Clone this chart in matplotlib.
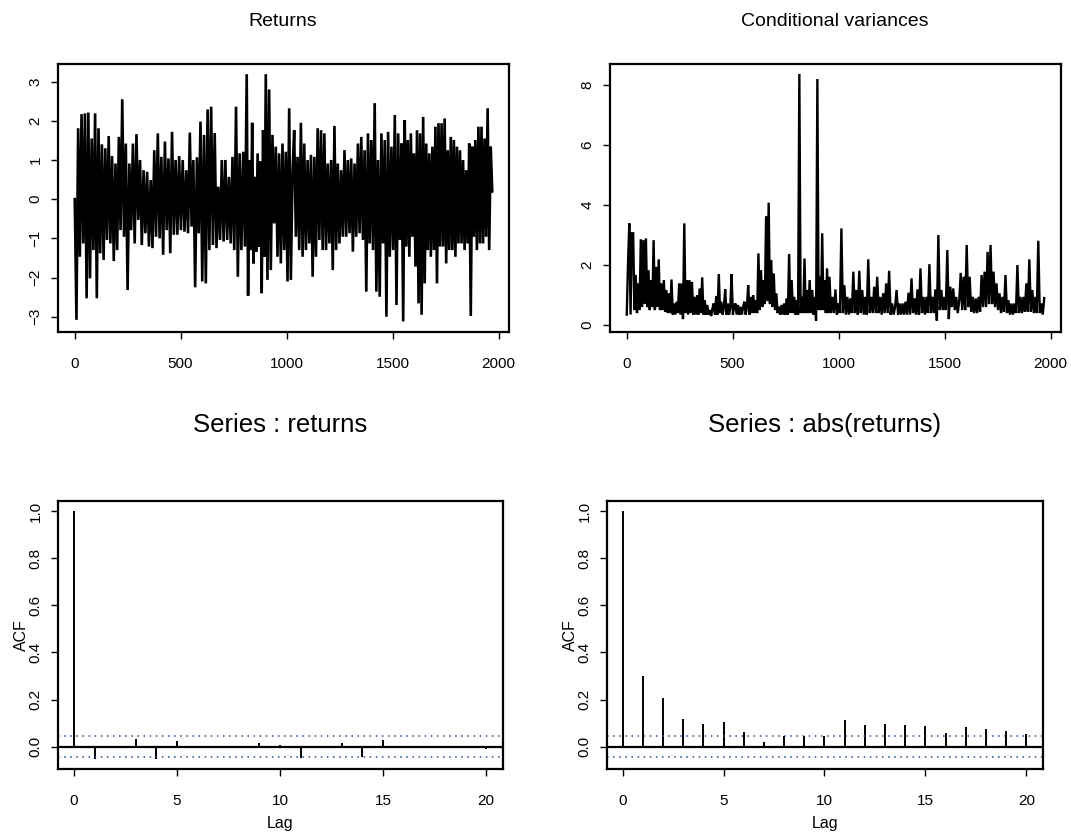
import matplotlib
matplotlib.use("Agg")
import matplotlib.pyplot as plt
import numpy as np

plt.rcParams['font.family'] = ['Liberation Sans', 'DejaVu Sans']

# returns: alternating peaks/troughs (left to right)
returns = [0.0, -3.08, 1.81, -1.47, 2.17, -1.13, 2.19, -2.53, 2.21, -2.02,
           1.55, -1.30, 2.19, -2.53, 1.81, -1.38, 1.40, -1.55, 1.30, -1.04,
           1.61, -1.13, 1.10, -1.58, 0.91, -1.30, 1.59, -0.79, 2.55, -0.96,
           1.42, -2.32, 0.91, -0.79, 1.42, -1.13, 1.66, -0.53, 1.00, -1.17,
           0.74, -0.87, 0.70, -1.21, 0.49, -1.25, 1.25, -0.96, 1.68, -1.00,
           1.08, -1.42, 1.47, -0.79, 1.04, -1.38, 1.72, -0.91, 1.00, -0.91,
           1.10, -0.79, 1.00, -0.83, 0.74, -0.87, 1.70, -0.70, 1.00, -2.25,
           1.07, -0.87, 1.98, -2.10, 1.64, -2.15, 2.29, -1.30, 2.36, -1.17,
           1.69, -1.25, 0.32, -1.04, 1.00, -1.08, 1.00, -1.04, 0.57, -1.13,
           1.08, -1.30, 2.36, -1.98, 1.17, -1.30, 1.21, -1.21, 3.19, -2.46,
           1.00, -1.30, 1.95, -1.64, 0.57, -1.34, 1.17, -1.21, 0.96, -2.40,
           1.76, -1.47, 3.19, -2.06, 2.80, -1.81, 1.64, -0.62, 1.34, -1.47,
           1.17, -1.64, 1.42, -1.30, 1.21, -2.10, 2.32, -2.06, 0.66,
           1.76, -0.96, 1.08, -1.30, 1.95, -1.47, 1.42, -1.30, 1.00, -1.13,
           1.13, -1.98, 1.08, -1.47, 1.81, -1.04, 1.76, -1.30, 1.68, -1.30,
           0.91, -1.13, 1.00, -1.81, 1.87, -1.30, 0.91, -1.13, 0.74, -0.96,
           1.25, -0.96, 1.00, -0.87, 1.04, -1.34, 0.91, -0.96, 1.42, -0.87,
           1.59, -1.04, 1.25, -2.36, 1.68, -1.13, 1.51, -1.30, 2.45, -2.36,
           1.00, -2.49, 1.68, -1.13, 1.51, -3.00, 1.72, -1.47, 1.34, -1.30,
           2.15, -2.70, 1.68, -1.04, 1.42, -3.12, 2.02, -1.21, 1.51, -1.47,
           1.68, -0.96, 1.17, -1.72, 1.76, -2.66, 1.68, -2.95, 2.10, -2.15,
           1.42, -1.30, 1.17, -1.47, 1.34, -1.30, 1.85, -2.15, 1.94, -1.21,
           1.94, -1.21, 2.06, -1.64, 1.25, -1.30, 1.59, -1.30, 1.51, -1.47,
           1.34, -1.13, 1.25, -1.13, 1.00, -1.30, 0.74, -1.13, 1.42, -2.98,
           1.34, -0.96, 1.51, -1.30, 1.85, -1.13, 1.85, -1.13, 1.55, -0.96,
           2.32, -1.30, 1.34, 0.20]
# observation number of a few of the points above (list position -> obs)
ret_anchor_pos = [0, 28, 98, 112, 128, 194, 252]
ret_anchor_obs = [1, 225, 812, 902, 1028, 1550, 1970]

# conditional variances: spikes and base level
cond_var = [0.35, 2.10, 3.39, 0.35, 3.06, 3.06, 0.50, 1.67, 0.40, 1.39,
            0.50, 2.86, 0.60, 2.83, 0.70, 2.89, 0.60, 1.83, 0.50, 1.50,
            0.60, 2.83, 0.50, 1.94, 0.60, 2.19, 0.50, 1.39, 0.50, 1.50,
            0.45, 1.17, 0.40, 1.06, 0.40, 1.52, 0.35, 0.72, 0.35, 0.78,
            0.40, 1.39, 0.35, 1.39, 0.20, 3.39, 0.40, 1.50, 0.35, 1.50,
            0.40, 1.44, 0.35, 0.94, 0.35, 1.00, 0.35, 1.22, 0.40, 1.59,
            0.35, 0.83, 0.35, 0.67, 0.35, 0.50, 0.30, 0.55, 0.72, 0.35,
            0.97, 0.35, 1.70, 0.40, 0.78, 0.35, 0.60, 1.19, 0.35, 0.72,
            0.35, 0.60, 1.70, 0.35, 0.60, 0.72, 0.35, 0.67, 0.35, 0.61,
            0.35, 0.60, 0.78, 0.35, 0.60, 1.33, 0.35, 0.94, 0.40, 1.00,
            0.40, 0.83, 0.40, 2.39, 0.50, 1.83, 0.60, 1.50, 0.70, 3.63,
            0.80, 4.08, 0.70, 2.17, 0.60, 1.72, 0.50, 1.06, 0.40, 0.61,
            0.35, 0.67, 0.35, 0.72, 0.35, 0.89, 0.35, 2.37, 0.40, 1.50,
            0.40, 0.94, 0.35, 0.83, 0.35, 8.37, 0.40, 0.94, 0.40, 2.22,
            0.40, 1.17, 0.40, 1.50, 0.40, 1.17, 0.35, 0.94, 0.15, 8.20,
            0.50, 1.61, 0.50, 3.06, 0.50, 1.50, 0.40, 1.89, 0.40, 1.61,
            0.40, 0.94, 0.40, 1.19, 0.35, 0.72, 0.40, 3.22, 0.40, 1.33,
            0.35, 0.94, 0.35, 0.89, 0.40, 1.78, 0.40, 1.17, 0.35, 1.81,
            0.40, 1.17, 0.35, 0.94, 0.35, 2.19, 0.40, 0.94, 0.40, 1.28,
            0.40, 1.61, 0.40, 0.94, 0.35, 1.06, 0.40, 1.39, 0.40, 1.81,
            0.35, 0.72, 0.35, 0.60, 1.17, 0.35, 0.72, 0.35, 0.72, 0.35,
            0.78, 0.35, 1.08, 0.35, 1.56, 0.40, 0.89, 0.35, 1.19, 0.35,
            1.89, 0.40, 0.94, 0.35, 0.94, 0.40, 2.03, 0.40, 0.94, 0.40,
            1.19, 0.15, 3.00, 0.50, 1.17, 0.50, 0.94, 0.50, 2.50, 0.20,
            1.28, 0.60, 1.22, 0.50, 0.94, 0.40, 0.80, 1.74, 0.50, 1.61,
            0.50, 2.67, 0.60, 1.61, 0.45, 0.94, 0.40, 0.89, 0.40, 0.94,
            0.45, 1.67, 0.60, 1.78, 0.60, 2.44, 0.70, 2.67, 0.70, 1.78,
            0.60, 1.39, 0.50, 1.06, 0.40, 0.94, 0.45, 1.67, 0.40, 0.83,
            0.35, 0.72, 0.35, 0.72, 0.40, 2.00, 0.40, 0.94, 0.40, 0.94,
            0.45, 1.39, 0.45, 2.19, 0.45, 1.17, 0.40, 0.94, 0.40, 2.81,
            0.40, 0.72, 0.35, 0.90]
cv_anchor_pos = [0, 135, 149, 159, 303]
cv_anchor_obs = [1, 815, 900, 957, 1970]

n_obs = 1970

lags = list(range(21))
acf_returns = [1.0, -0.051, 0.002, 0.031, -0.051, 0.023, -0.002, -0.003,
               -0.002, 0.015, 0.008, -0.049, 0.003, 0.016, -0.045, 0.028,
               -0.002, -0.002, -0.003, 0.001, -0.008]
acf_abs = [1.0, 0.301, 0.208, 0.118, 0.096, 0.103, 0.063, 0.021, 0.044,
           0.046, 0.046, 0.114, 0.090, 0.097, 0.090, 0.086, 0.059, 0.083,
           0.075, 0.068, 0.055]
conf = 2 / np.sqrt(n_obs)

W, H = 1071, 835
fig = plt.figure(figsize=(W / 100, H / 100), dpi=100)


def box(l, t, r, b):
    return fig.add_axes([l / W, 1 - b / H, (r - l) / W, (b - t) / H])


def style(ax):
    for s in ax.spines.values():
        s.set_linewidth(1.6)
    ax.tick_params(axis='x', direction='out', length=5, width=1, labelsize=11, pad=13)
    ax.tick_params(axis='y', direction='out', length=5, width=1, labelsize=11, pad=6)
    for lab in ax.get_yticklabels():
        lab.set_rotation(90)
        lab.set_va('center')


ax1 = box(58, 64, 509, 332)
ax2 = box(610, 64, 1061, 332)
ax3 = box(58, 501, 503, 769)
ax4 = box(607, 501, 1043, 769)

# time series panels
t1 = np.interp(np.arange(len(returns)), ret_anchor_pos, ret_anchor_obs)
ax1.plot(t1, returns, color='black', lw=1.9, solid_joinstyle='miter')
ax1.set_xlim(-78, 2049)
ax1.set_ylim(-3.39, 3.45)
ax1.set_yticks([-3, -2, -1, 0, 1, 2, 3])
ax1.set_xticks([0, 500, 1000, 1500, 2000])

t2 = np.interp(np.arange(len(cond_var)), cv_anchor_pos, cv_anchor_obs)
ax2.plot(t2, cond_var, color='black', lw=1.7, solid_joinstyle='miter')
ax2.set_xlim(-78, 2049)
ax2.set_ylim(-0.23, 8.7)
ax2.set_yticks([0, 2, 4, 6, 8])
ax2.set_xticks([0, 500, 1000, 1500, 2000])

# ACF panels
for ax, vals in [(ax3, acf_returns), (ax4, acf_abs)]:
    ax.vlines(lags, 0, vals, color='black', lw=1.4)
    ax.axhline(0, color='black', lw=1.6)
    ax.axhline(conf, color='#1f4f8f', lw=1.1, ls=(0, (1, 3)))
    ax.axhline(-conf, color='#1f4f8f', lw=1.1, ls=(0, (1, 3)))
    ax.set_xlim(-0.78, 20.83)
    ax.set_ylim(-0.095, 1.043)
    ax.set_xticks([0, 5, 10, 15, 20])
    ax.set_yticks([0.0, 0.2, 0.4, 0.6, 0.8, 1.0])
    ax.set_yticklabels(['0.0', '0.2', '0.4', '0.6', '0.8', '1.0'])
    ax.set_xlabel('Lag', fontsize=11.5, labelpad=6)
    ax.set_ylabel('ACF', fontsize=11.5, labelpad=0)

for ax in (ax1, ax2, ax3, ax4):
    style(ax)

fig.text(283 / W, 1 - 22 / H, 'Returns', ha='center', va='center', fontsize=14)
fig.text(835 / W, 1 - 22 / H, 'Conditional variances', ha='center', va='center', fontsize=14)
fig.text(280 / W, 1 - 425 / H, 'Series : returns', ha='center', va='center', fontsize=18.5)
fig.text(825 / W, 1 - 425 / H, 'Series : abs(returns)', ha='center', va='center', fontsize=18.5)

fig.savefig('out.png', dpi=100)
